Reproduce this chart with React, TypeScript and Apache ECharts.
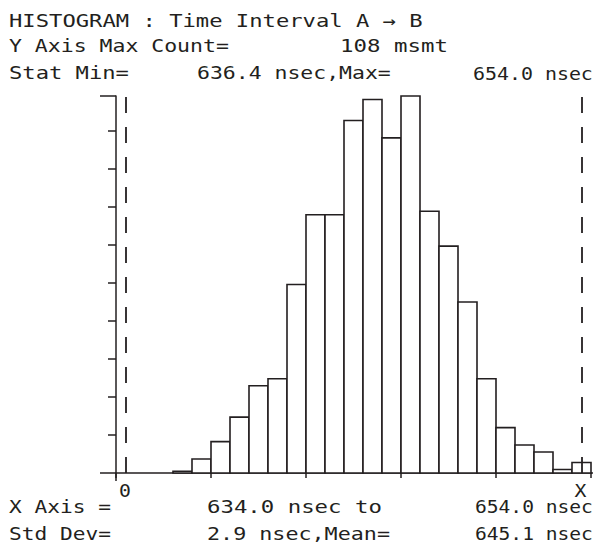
import React, { useEffect, useRef } from "react";
import * as echarts from "echarts";

// Histogram bins (left edge in nsec) and measurement counts per bin
const binStarts = [
  636.4, 637.2, 638.0, 638.8, 639.6, 640.4, 641.2, 642.0, 642.8, 643.6, 644.4,
  645.2, 646.0, 646.8, 647.6, 648.4, 649.2, 650.0, 650.8, 651.6, 652.4, 653.2,
];
const counts = [
  0.5, 4, 9, 16, 25, 27, 54, 74, 74, 101, 107, 96, 108, 75, 65, 49, 27, 13, 8, 6,
  1, 3,
];
const BIN_WIDTH = 0.8;

// Axis extents and tick marks
const xMin = 634.0;
const xMax = 654.0;
const xTickStep = 4;
const yMax = 108;
const yTicks = [10.9, 21.8, 32.7, 43.6, 54.5, 65.4, 76.3, 87.2, 98.1];

// Cursor markers (dashed verticals) and their labels
const cursorValues = [634.42, 653.6];
const cursorLabels = ["0", "X"];

// Readout text
const titleText = "HISTOGRAM : Time Interval A \u2192 B";
const maxCountText = ["Y Axis Max Count=", "108 msmt"];
const statText = ["Stat Min=", "636.4 nsec,Max=", "654.0 nsec"];
const xAxisText = ["X Axis =", "634.0 nsec to", "654.0 nsec"];
const stdText = ["Std Dev=", "2.9 nsec,Mean=", "645.1 nsec"];

const INK = "#231f20";
const FONT_FAMILY = '"DejaVu Sans Mono", monospace';
const FONT_SIZE = 18;

function measure(text: string): number {
  const c = document.createElement("canvas").getContext("2d");
  if (!c) return text.length * FONT_SIZE * 0.602;
  c.font = `${FONT_SIZE}px "DejaVu Sans Mono"`;
  return c.measureText(text).width;
}

// left edge, right edge, vertical middle
type Chunk = { text: string; x0: number; x1: number; y: number };

export default function App() {
  const ref = useRef<HTMLDivElement>(null);

  useEffect(() => {
    if (!ref.current) return;
    const chart = echarts.init(ref.current, undefined, { renderer: "svg" });

    const data = binStarts.map((s, i) => [s, s + BIN_WIDTH, counts[i]]);

    chart.setOption({
      animation: false,
      backgroundColor: "#ffffff",
      grid: { left: 116, right: 4, top: 96, bottom: 73 },
      xAxis: {
        type: "value",
        min: xMin,
        max: xMax,
        interval: xTickStep,
        axisLine: { show: true, lineStyle: { color: INK, width: 1.5 } },
        axisTick: {
          show: true,
          inside: false,
          length: 5,
          lineStyle: { color: INK, width: 1.5 },
        },
        axisLabel: { show: false },
        splitLine: { show: false },
      },
      yAxis: {
        type: "value",
        min: 0,
        max: yMax,
        axisLine: { show: true, lineStyle: { color: INK, width: 1.5 } },
        axisTick: {
          show: true,
          inside: false,
          length: 8,
          customValues: yTicks,
          lineStyle: { color: INK, width: 1.5 },
        },
        axisLabel: { show: false },
        splitLine: { show: false },
      },
      series: [
        {
          type: "custom",
          data,
          encode: { x: [0, 1], y: 2 },
          renderItem: (_params: any, api: any) => {
            const p0 = api.coord([api.value(0), api.value(2)]);
            const p1 = api.coord([api.value(1), 0]);
            return {
              type: "rect",
              shape: {
                x: p0[0],
                y: p0[1],
                width: p1[0] - p0[0],
                height: p1[1] - p0[1],
              },
              style: { fill: "#ffffff", stroke: INK, lineWidth: 1.6 },
            };
          },
          markLine: {
            silent: true,
            symbol: "none",
            label: { show: false },
            lineStyle: { color: INK, width: 1.8, type: [16, 14] },
            data: cursorValues.map((v) => ({ xAxis: v })),
          },
          z: 2,
        },
      ],
    });

    const px = (x: number, y: number) =>
      chart.convertToPixel({ gridIndex: 0 }, [x, y]) as number[];
    const origin = px(xMin, 0);
    const top = px(xMin, yMax);
    const right = px(xMax, 0);

    const chunks: Chunk[] = [
      { text: titleText, x0: 9, x1: 423, y: 21 },
      { text: maxCountText[0], x0: 9, x1: 229, y: 46 },
      { text: maxCountText[1], x0: 340, x1: 448, y: 46 },
      { text: statText[0], x0: 9, x1: 129, y: 73 },
      { text: statText[1], x0: 197, x1: 391, y: 73 },
      { text: statText[2], x0: 473, x1: 593, y: 73 },
      { text: xAxisText[0], x0: 9, x1: 111, y: 507 },
      { text: xAxisText[1], x0: 207, x1: 382, y: 507 },
      { text: xAxisText[2], x0: 475, x1: 593, y: 507 },
      { text: stdText[0], x0: 9, x1: 111, y: 534 },
      { text: stdText[1], x0: 207, x1: 390, y: 534 },
      { text: stdText[2], x0: 475, x1: 593, y: 534 },
    ];

    const textEls = chunks.map((c) => ({
      type: "text",
      x: c.x0,
      y: c.y,
      scaleX: (c.x1 - c.x0) / measure(c.text),
      silent: true,
      style: {
        text: c.text,
        fontFamily: FONT_FAMILY,
        fontSize: FONT_SIZE,
        fill: INK,
        align: "left",
        verticalAlign: "middle",
      },
    }));

    const cursorEls = cursorValues.map((v, i) => {
      const p = px(v, 0);
      return {
        type: "text",
        x: p[0] - 1,
        y: p[1] + 17,
        scaleX: 1.1,
        silent: true,
        style: {
          text: cursorLabels[i],
          fontFamily: FONT_FAMILY,
          fontSize: FONT_SIZE,
          fill: INK,
          align: "center",
          verticalAlign: "middle",
        },
      };
    });

    const lineStyle = { stroke: INK, lineWidth: 1.5 };
    chart.setOption({
      graphic: [
        // x axis stub left of the origin
        {
          type: "line",
          silent: true,
          shape: { x1: origin[0] - 16, y1: origin[1], x2: origin[0], y2: origin[1] },
          style: lineStyle,
        },
        // x axis overrun on the right
        {
          type: "line",
          silent: true,
          shape: { x1: right[0], y1: right[1], x2: right[0] + 2, y2: right[1] },
          style: lineStyle,
        },
        // y axis continues below the baseline
        {
          type: "line",
          silent: true,
          shape: { x1: origin[0], y1: origin[1], x2: origin[0], y2: origin[1] + 8 },
          style: lineStyle,
        },
        // long tick at full scale
        {
          type: "line",
          silent: true,
          shape: { x1: top[0] - 16, y1: top[1], x2: top[0], y2: top[1] },
          style: lineStyle,
        },
        ...cursorEls,
        ...textEls,
      ],
    });

    return () => chart.dispose();
  }, []);

  return (
    <div
      ref={ref}
      style={{ position: "fixed", left: 0, top: 0, width: 595, height: 546 }}
    />
  );
}
